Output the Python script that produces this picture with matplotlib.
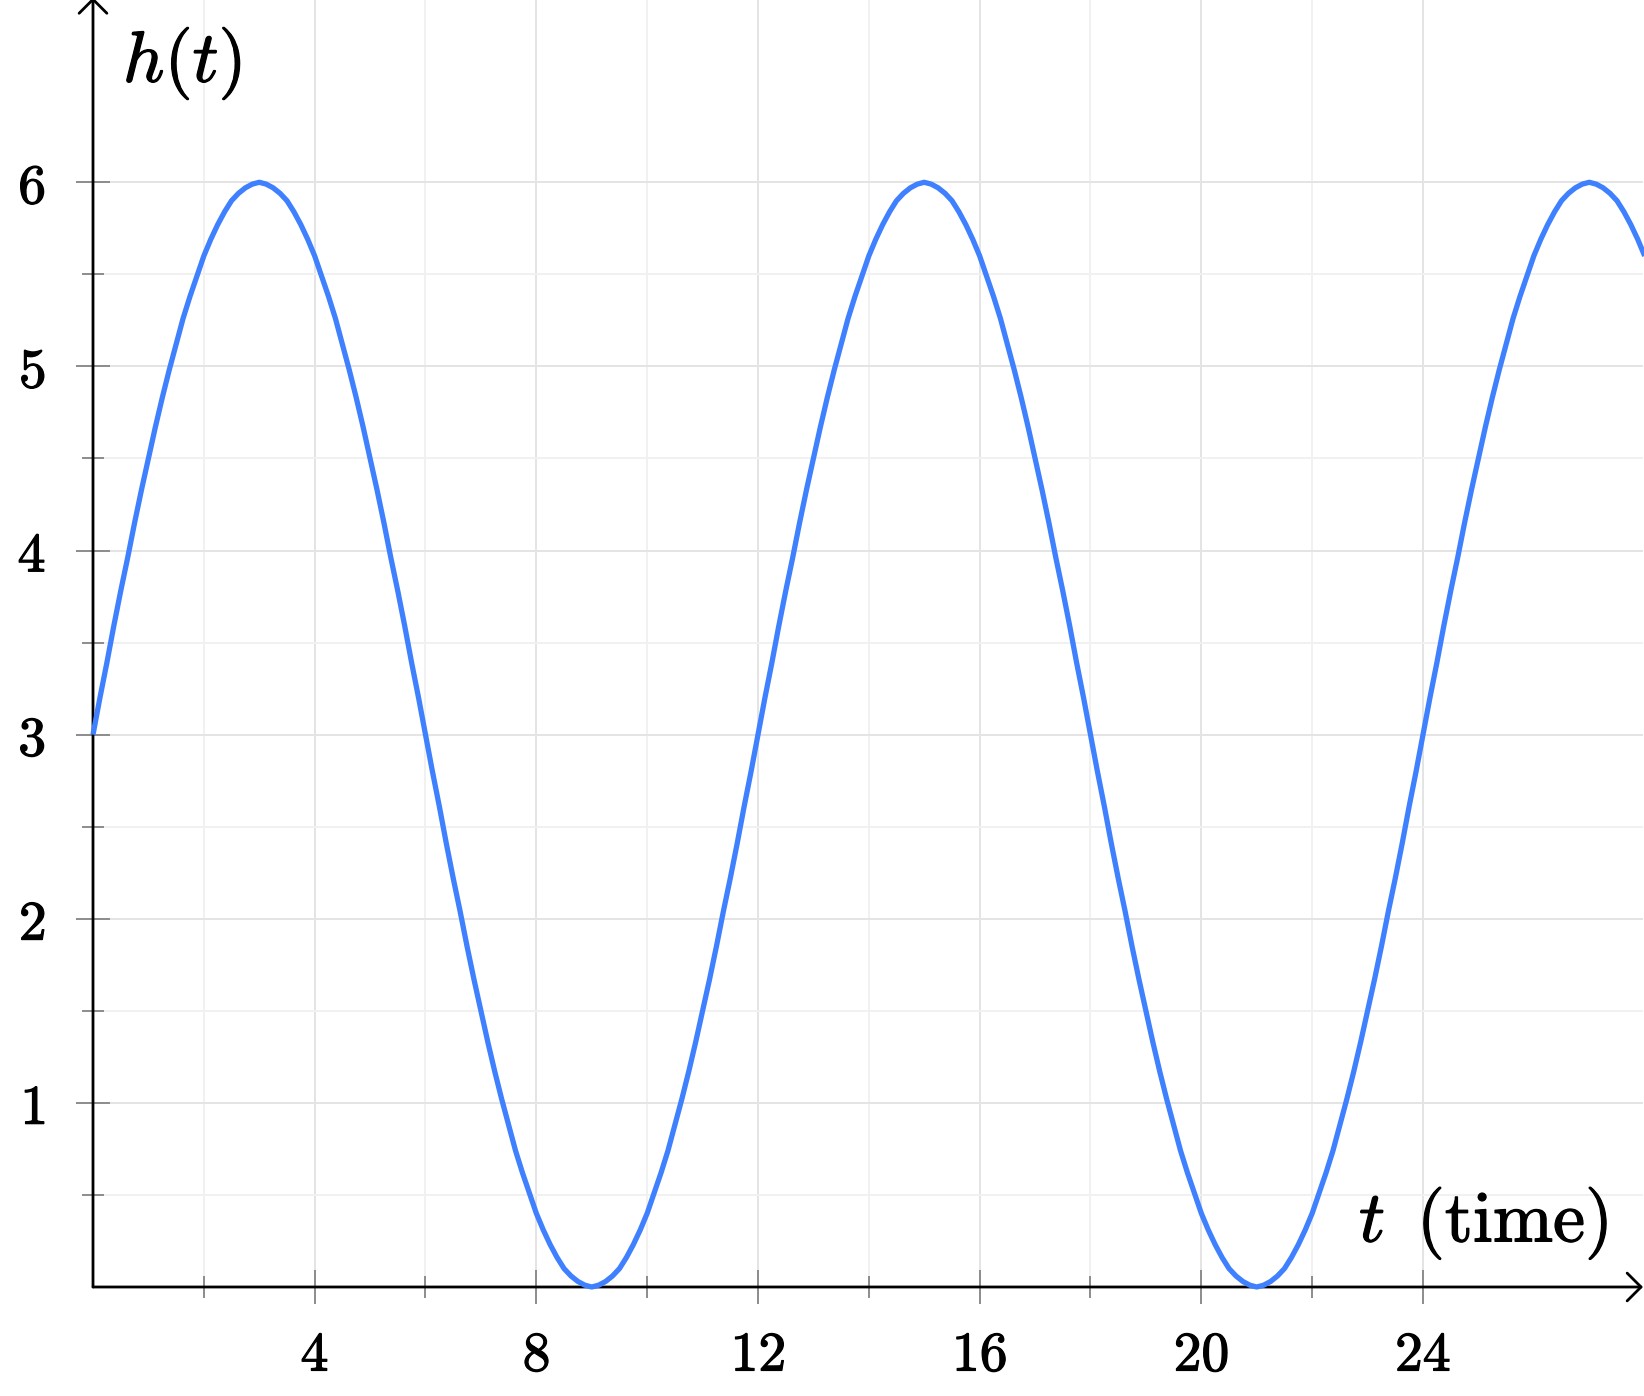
import matplotlib
matplotlib.use("Agg")
import matplotlib.pyplot as plt
import matplotlib.patheffects as pe
import numpy as np

plt.rcParams['mathtext.fontset'] = 'cm'

# h(t) every eighth of a unit of t, from t = 0 to t = 28
t_vals = np.arange(0, 28.001, 0.125)
h_vals = [
    # t = 0 .. 12
    3.00, 3.20, 3.39, 3.59, 3.78, 3.96, 4.15, 4.33, 4.50, 4.67, 4.83, 4.98,
    5.12, 5.26, 5.38, 5.49, 5.60, 5.69, 5.77, 5.84, 5.90, 5.94, 5.97, 5.99,
    6.00, 5.99, 5.97, 5.94, 5.90, 5.84, 5.77, 5.69, 5.60, 5.49, 5.38, 5.26,
    5.12, 4.98, 4.83, 4.67, 4.50, 4.33, 4.15, 3.96, 3.78, 3.59, 3.39, 3.20,
    3.00, 2.80, 2.61, 2.41, 2.22, 2.04, 1.85, 1.67, 1.50, 1.33, 1.17, 1.02,
    0.88, 0.74, 0.62, 0.51, 0.40, 0.31, 0.23, 0.16, 0.10, 0.06, 0.03, 0.01,
    0.00, 0.01, 0.03, 0.06, 0.10, 0.16, 0.23, 0.31, 0.40, 0.51, 0.62, 0.74,
    0.88, 1.02, 1.17, 1.33, 1.50, 1.67, 1.85, 2.04, 2.22, 2.41, 2.61, 2.80,
    # t = 12 .. 24
    3.00, 3.20, 3.39, 3.59, 3.78, 3.96, 4.15, 4.33, 4.50, 4.67, 4.83, 4.98,
    5.12, 5.26, 5.38, 5.49, 5.60, 5.69, 5.77, 5.84, 5.90, 5.94, 5.97, 5.99,
    6.00, 5.99, 5.97, 5.94, 5.90, 5.84, 5.77, 5.69, 5.60, 5.49, 5.38, 5.26,
    5.12, 4.98, 4.83, 4.67, 4.50, 4.33, 4.15, 3.96, 3.78, 3.59, 3.39, 3.20,
    3.00, 2.80, 2.61, 2.41, 2.22, 2.04, 1.85, 1.67, 1.50, 1.33, 1.17, 1.02,
    0.88, 0.74, 0.62, 0.51, 0.40, 0.31, 0.23, 0.16, 0.10, 0.06, 0.03, 0.01,
    0.00, 0.01, 0.03, 0.06, 0.10, 0.16, 0.23, 0.31, 0.40, 0.51, 0.62, 0.74,
    0.88, 1.02, 1.17, 1.33, 1.50, 1.67, 1.85, 2.04, 2.22, 2.41, 2.61, 2.80,
    # t = 24 .. 28
    3.00, 3.20, 3.39, 3.59, 3.78, 3.96, 4.15, 4.33, 4.50, 4.67, 4.83, 4.98,
    5.12, 5.26, 5.38, 5.49, 5.60, 5.69, 5.77, 5.84, 5.90, 5.94, 5.97, 5.99,
    6.00, 5.99, 5.97, 5.94, 5.90, 5.84, 5.77, 5.69, 5.60,
]

x_major = [4, 8, 12, 16, 20, 24]
x_minor = [2, 6, 10, 14, 18, 22]
y_major = [1, 2, 3, 4, 5, 6]
y_minor = [0.5, 1.5, 2.5, 3.5, 4.5, 5.5]

W, H = 1644, 1396
fig = plt.figure(figsize=(W / 100, H / 100), dpi=100)
ax = fig.add_axes([93 / W, 109 / H, (1643 - 93) / W, 1287 / H])
ax.set_xlim(0, 27.97)
ax.set_ylim(0, 6.99)

for s in ax.spines.values():
    s.set_visible(False)

# a thin stroke makes the CM glyphs as heavy as in the reference
bold = [pe.withStroke(linewidth=0.9, foreground='black')]

ax.set_xticks(x_major)
ax.set_xticks(x_minor, minor=True)
ax.set_yticks(y_major)
ax.set_yticks(y_minor, minor=True)
ax.set_xticklabels([f'${v}$' for v in x_major])
ax.set_yticklabels([f'${v}$' for v in y_major])
for lab in ax.get_xticklabels() + ax.get_yticklabels():
    lab.set_path_effects(bold)

ax.tick_params(which='major', direction='inout', length=24, width=1.4,
               color='#8c8c8c', labelsize=40, pad=18)
ax.tick_params(which='minor', direction='inout', length=16, width=1.4,
               color='#8c8c8c')
ax.tick_params(axis='y', which='major', pad=22)

ax.grid(which='major', color='#e4e4e4', lw=1.4)
ax.grid(which='minor', color='#f1f1f1', lw=1.4)
ax.set_axisbelow(True)

arrow = dict(arrowstyle='->,head_length=0.2,head_width=0.2', lw=2,
             color='black', mutation_scale=50, shrinkA=0, shrinkB=0)
ax.annotate('', xy=(1, 0), xytext=(0, 0), xycoords='axes fraction',
            arrowprops=arrow, annotation_clip=False)
ax.annotate('', xy=(0, 1.002), xytext=(0, 0), xycoords='axes fraction',
            arrowprops=arrow, annotation_clip=False)

ax.plot(t_vals, h_vals, color='#3f80ff', lw=3.8, clip_on=False, zorder=5,
        solid_capstyle='butt', solid_joinstyle='round')

ax.text(0.54, 6.86, r'$h(t)$', fontsize=52, ha='left', va='top',
        path_effects=bold)
ax.text(27.34, 0.136, r'$t\enspace\mathrm{(time)}$', fontsize=52,
        ha='right', va='bottom', path_effects=bold)

fig.savefig('out.png', dpi=100)
